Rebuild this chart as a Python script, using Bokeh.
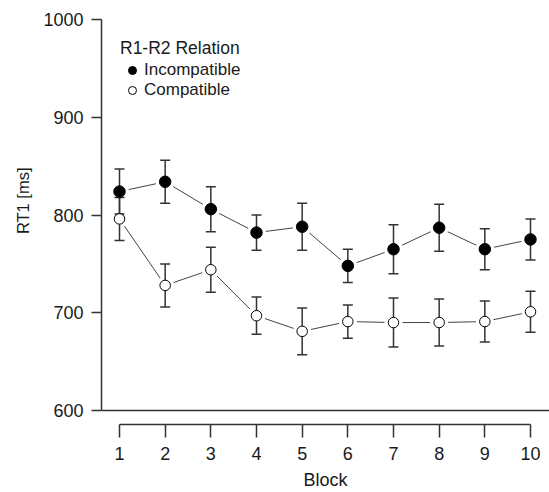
import math
from bokeh.plotting import figure
from bokeh.models import Range1d, FixedTicker, Span, Title, Legend, LegendItem
from bokeh.embed import file_html
from bokeh.resources import INLINE

# ---- data ----
blocks = [1, 2, 3, 4, 5, 6, 7, 8, 9, 10]
incompatible = [824, 834, 806, 782, 788, 748, 765, 787, 765, 775]
incompatible_err = [23, 22, 23, 18, 24, 17, 25, 24, 21, 21]
compatible = [796, 728, 744, 697, 681, 691, 690, 690, 691, 701]
compatible_err = [22, 22, 23, 19, 24, 17, 25, 24, 21, 21]
y_ticks = [600, 700, 800, 900, 1000]
x_label = "Block"
y_label = "RT1 [ms]"
legend_title = "R1-R2 Relation"
series_names = ["Incompatible", "Compatible"]

FONT = "Liberation Sans"
FS = "18px"
AX = "#333333"
TXT = "#1a1a1a"

p = figure(width=549, height=492, output_backend="svg", toolbar_location=None,
           x_range=Range1d(0.6058, 10.416), y_range=Range1d(585.7, 1000),
           min_border_left=101, min_border_right=0, min_border_top=19,
           min_border_bottom=68)
p.outline_line_color = None
p.xgrid.visible = False
p.ygrid.visible = False
p.background_fill_color = "white"

# axes
for ax in (p.xaxis[0], p.yaxis[0]):
    ax.axis_line_color = AX
    ax.axis_line_width = 1.5
    ax.major_tick_line_color = AX
    ax.major_tick_line_width = 1.5
    ax.minor_tick_line_color = None
    ax.major_tick_in = 0
    ax.major_label_text_font = FONT
    ax.major_label_text_font_size = FS
    ax.major_label_text_color = TXT
    ax.axis_label_text_font = FONT
    ax.axis_label_text_font_size = FS
    ax.axis_label_text_font_style = "normal"
    ax.axis_label_text_color = TXT

p.xaxis.ticker = FixedTicker(ticks=blocks)
p.xaxis.bounds = (blocks[0], blocks[-1])
p.xaxis.major_tick_out = 13
p.xaxis.major_label_standoff = 9
p.xaxis.axis_label = x_label
p.xaxis.axis_label_standoff = 7

p.yaxis.ticker = FixedTicker(ticks=y_ticks)
p.yaxis.bounds = (y_ticks[0], y_ticks[-1])
p.yaxis.major_tick_out = 10
p.yaxis.major_label_standoff = 8

# baseline at 600
p.add_layout(Span(location=y_ticks[0], dimension="width", line_color=AX, line_width=1.5))

# y axis title, placed as a side title
p.add_layout(Title(text=y_label, align="right", offset=148, vertical_align="middle",
                   standoff=16, text_font=FONT, text_font_size="16.5px",
                   text_font_style="normal", text_color=TXT), "left")

# connecting lines
p.line(blocks, incompatible, line_color="#444444", line_width=1)
p.line(blocks, compatible, line_color="#444444", line_width=1)
# white halos to create gaps
p.scatter(blocks, incompatible, size=19, fill_color="white", line_color=None)
p.scatter(blocks, compatible, size=18, fill_color="white", line_color=None)

# error bars
for vals, errs in ((incompatible, incompatible_err), (compatible, compatible_err)):
    lo = [v - e for v, e in zip(vals, errs)]
    hi = [v + e for v, e in zip(vals, errs)]
    p.segment(blocks, lo, blocks, hi, line_color=AX, line_width=1.5)
    p.scatter(blocks, lo, marker="dash", size=10, line_color=AX, line_width=1.5)
    p.scatter(blocks, hi, marker="dash", size=10, line_color=AX, line_width=1.5)

r_inc = p.scatter(blocks, incompatible, size=11.5, fill_color="black", line_color="black")
r_comp = p.scatter(blocks, compatible, size=10.5, fill_color="white", line_color="black",
                   line_width=1)

legend = Legend(items=[LegendItem(label=series_names[0], renderers=[r_inc]),
                       LegendItem(label=series_names[1], renderers=[r_comp])],
                title=legend_title, location="top_left",
                border_line_alpha=0, background_fill_alpha=0,
                title_text_font=FONT, title_text_font_size="17.5px",
                title_text_font_style="normal", title_text_color=TXT,
                label_text_font=FONT, label_text_font_size="17px", label_text_color=TXT,
                glyph_width=24, glyph_height=20, label_height=20, label_standoff=0,
                spacing=0, padding=0, margin=19, title_standoff=1)
p.add_layout(legend)

open("out.html", "w").write(file_html(p, INLINE))
